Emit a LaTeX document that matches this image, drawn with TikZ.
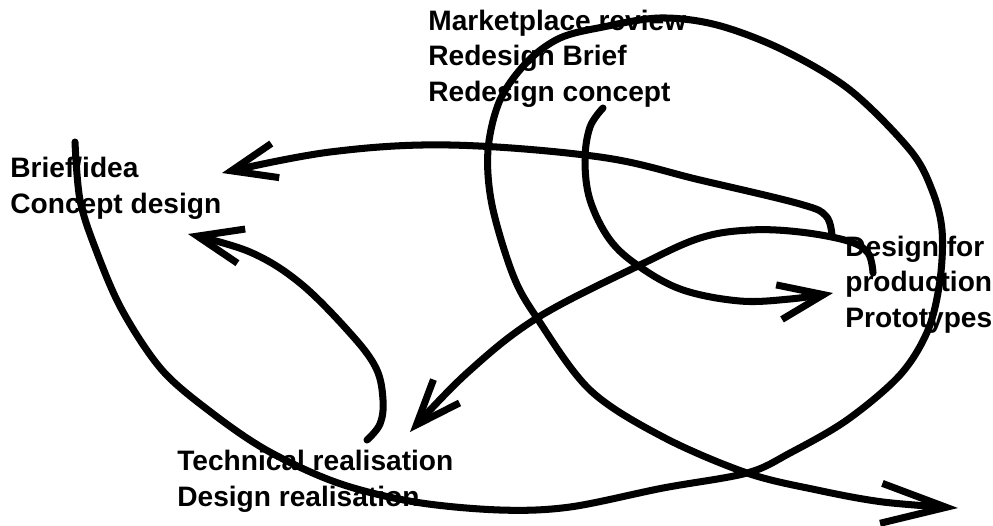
\documentclass[tikz,border=0pt]{standalone}
\usepackage{fontspec}
\setmainfont{Liberation Sans}
\usetikzlibrary{arrows.meta}

\begin{document}
\begin{tikzpicture}[x=0.02cm,y=-0.02cm,
        stage/.style={anchor=base west,align=left,inner sep=0pt,font=\bfseries\fontsize{16}{20}\selectfont},
        sketch/.style={line width=4pt,line cap=round,line join=round},
        tip/.style={-{Straight Barb[length=9mm,width=7mm]}},
        bigtip/.style={-{Straight Barb[length=13mm,width=8mm]}}]
        \useasboundingbox (0,0) rectangle (993,525);
        \node[stage] (brief) at (10,213) {Brief/idea\\Concept design};
        \node[stage] (market) at (428,101) {Marketplace review\\Redesign Brief\\Redesign concept};
        \node[stage] (production) at (845,327) {Design for\\production\\Prototypes};
        \node[stage] (technical) at (177,506) {Technical realisation\\Design realisation};
        \coordinate (prod-a) at (832,236);
        \coordinate (prod-b) at (873,273);
        \coordinate (prod-in) at (833,293);
        \coordinate (brief-in) at (222,173);
        \coordinate (concept-in) at (188,234);
        \coordinate (tech-in) at (410,432);
        \coordinate (tech-out) at (367,440);
        \coordinate (market-out) at (603,108);
        \coordinate (loop-start) at (75,142);
        \coordinate (loop-end) at (958,508);
        \draw[sketch,tip] plot[smooth,tension=0.6] coordinates {(prod-a) (826,216) (800,204) (700,180) (600,157) (450,145) (330,152) (brief-in)};
        \draw[sketch,tip] plot[smooth,tension=0.6] coordinates {(prod-b) (868,253) (848,241) (800,232) (750,230) (700,238) (640,265) (537,318) (467,373) (tech-in)};
        \draw[sketch,tip] plot[smooth,tension=0.6] coordinates {(market-out) (590,127) (585,160) (590,200) (610,240) (640,267) (683,290) (740,301) (790,299) (prod-in)};
        \draw[sketch,tip] plot[smooth,tension=0.6] coordinates {(tech-out) (380,424) (383,400) (376,368) (350,333) (300,283) (250,252) (concept-in)};
        \draw[sketch,bigtip] plot[smooth,tension=0.55] coordinates {(loop-start) (80,200) (96,250) (122,310) (162,370) (212,413) (268,451) (338,483) (415,502) (500,510) (570,507) (663,488) (747,473) (790,453) (847,420) (900,375) (928,330) (940,280) (942,230) (932,190) (910,150) (850,90) (783,50) (717,25) (660,18) (603,27) (560,38) (527,62) (500,100) (488,150) (492,205) (513,275) (537,318) (590,390) (663,437) (747,473) (817,490) (883,502) (loop-end)};
\end{tikzpicture}
\end{document}
